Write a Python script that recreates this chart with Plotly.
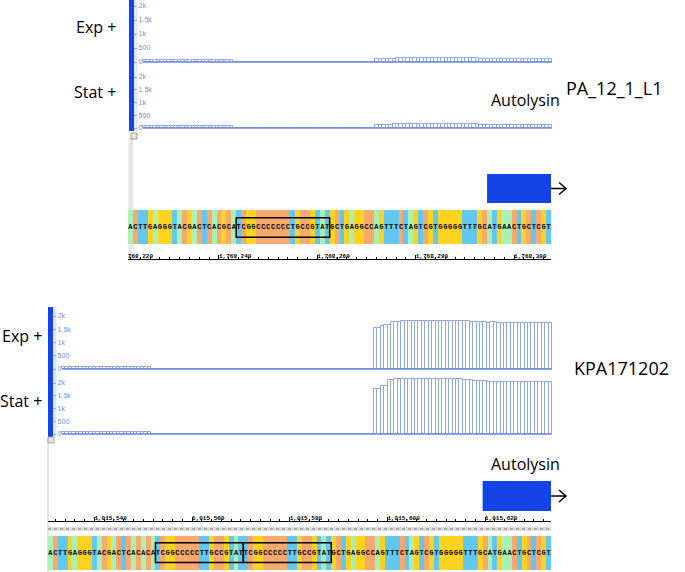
import plotly.graph_objects as go

W, H = 685, 572


def px(x):
    return x / W


def py(y):
    return 1 - y / H


# ---------------- data ----------------
track_names = ["Exp +", "Stat +"]
strain_names = ["PA_12_1_L1", "KPA171202"]
gene_name = "Autolysin"

top_seq = "ACTTGAGGGTACGACTCACGCATCGGCCCCCCCTGCCGTATGCTGAGGCCAGTTTCTAGTCGTGGGGGTTTGCATGAACTGCTCGT"
bottom_seq = "ACTTGAGGGTACGACTCACACATCGGCCCCCTTGCCGTATTCGGCCCCCTTGCCGTATGCTGAGGCCAGTTTCTAGTCGTGGGGGTTTGCATGAACTGCTCGT"
top_seq_start = 1768222
bottom_seq_start = 1015531

top_repeats = [(1768244, 1768262)]
bottom_repeats = [(1015553, 1015570), (1015571, 1015588)]

top_ticks = [1768220, 1768240, 1768260, 1768280, 1768300]
top_tick_labels = ["1,768,220", "1,768,240", "1,768,260", "1,768,280", "1,768,300"]
bottom_ticks = [1015540, 1015560, 1015580, 1015600, 1015620]
bottom_tick_labels = ["1,015,540", "1,015,560", "1,015,580", "1,015,600", "1,015,620"]

top_gene_start = 1768295
bottom_gene_start = 1015620

cov_ticks = [0, 500, 1000, 1500, 2000]
cov_tick_labels = ["0", "500", "1k", "1.5k", "2k"]

top_exp = [
    60, 60, 60, 60, 60, 60, 60, 60, 60, 60, 60, 60, 60, 60, 60, 60, 60, 60, 60, 60, 60, 60, 60, 60, 60, 60,
    0, 0, 0, 0, 0, 0, 0, 0, 0, 0, 0, 0, 0, 0, 0, 0, 0, 0, 0, 0, 0, 0, 0, 0, 0, 0, 0, 0, 0, 0, 0, 0, 0, 0, 0,
    0, 0, 0, 0, 0, 0,
    110, 115, 120, 120, 125, 125, 130, 130, 130, 130, 130, 135, 135, 135, 135, 135, 135, 135, 135, 130,
    130, 130, 130, 130, 130, 130, 130, 130, 130, 130, 125, 125, 125, 125, 125, 125, 125, 125, 125, 125,
    125, 125, 125, 125, 125, 125, 125, 125, 125, 125, 125,
]
top_stat = [
    60, 60, 60, 60, 60, 60, 60, 60, 60, 60, 60, 60, 60, 60, 60, 60, 60, 60, 60, 60, 60, 60, 60, 60, 60, 60,
    0, 0, 0, 0, 0, 0, 0, 0, 0, 0, 0, 0, 0, 0, 0, 0, 0, 0, 0, 0, 0, 0, 0, 0, 0, 0, 0, 0, 0, 0, 0, 0, 0, 0, 0,
    0, 0, 0, 0, 0, 0,
    120, 125, 130, 130, 135, 140, 140, 140, 140, 145, 145, 145, 145, 145, 145, 145, 145, 145, 145, 140,
    140, 140, 140, 140, 140, 140, 140, 140, 140, 140, 135, 135, 135, 135, 135, 135, 135, 135, 135, 135,
    135, 135, 135, 135, 135, 135, 135, 135, 135, 135, 135,
]
bottom_exp = [
    60, 60, 60, 60, 60, 60, 60, 60, 60, 60, 60, 60, 60, 60, 60, 60, 60, 60, 60, 60, 60, 60, 60, 60, 60, 60,
    0, 0, 0, 0, 0, 0, 0, 0, 0, 0, 0, 0, 0, 0, 0, 0, 0, 0, 0, 0, 0, 0, 0, 0, 0, 0, 0, 0, 0, 0, 0, 0, 0, 0,
    0, 0, 0, 0, 0, 0, 0, 0, 0, 0, 0, 0, 0, 0, 0, 0, 0, 0, 0, 0, 0, 0, 0, 0, 0, 0, 0, 0, 0, 0, 0,
    1550, 1550, 1610, 1650, 1650, 1770, 1780, 1790, 1800, 1800,
    1800, 1810, 1810, 1820, 1820, 1820, 1830, 1830, 1830, 1830,
    1830, 1830, 1830, 1830, 1820, 1820, 1810, 1800, 1790, 1780,
    1770, 1760, 1760, 1750, 1760, 1760, 1750, 1750, 1740, 1740,
    1740, 1740, 1730, 1730, 1730, 1730, 1740, 1740, 1730, 1730,
    1730, 1730,
]
bottom_stat = [
    60, 60, 60, 60, 60, 60, 60, 60, 60, 60, 60, 60, 60, 60, 60, 60, 60, 60, 60, 60, 60, 60, 60, 60, 60, 60,
    0, 0, 0, 0, 0, 0, 0, 0, 0, 0, 0, 0, 0, 0, 0, 0, 0, 0, 0, 0, 0, 0, 0, 0, 0, 0, 0, 0, 0, 0, 0, 0, 0, 0,
    0, 0, 0, 0, 0, 0, 0, 0, 0, 0, 0, 0, 0, 0, 0, 0, 0, 0, 0, 0, 0, 0, 0, 0, 0, 0, 0, 0, 0, 0, 0,
    1780, 1780, 1870, 1870, 2100, 2130, 2140, 2140, 2140, 2140,
    2140, 2150, 2150, 2150, 2150, 2150, 2150, 2150, 2150, 2150,
    2150, 2150, 2150, 2150, 2140, 2140, 2130, 2120, 2110, 2090,
    2080, 2070, 2060, 2050, 2050, 2050, 2050, 2040, 2040, 2040,
    2040, 2030, 2030, 2030, 2030, 2030, 2030, 2030, 2030, 2030,
    2030, 2030,
]

# ---------------- styles ----------------
base_colors = {"A": "#a9f0b5", "C": "#f7a96e", "G": "#ffd320", "T": "#63c8f1"}
BLUE = "#1444e8"
COV_LINE = "#8ea8e8"
COV_BASE = "#6a8bdb"
TICK_BLUE = "#6f8fdc"
LABEL_FONT = dict(family="Open Sans", size=16, color="black")
STRAIN_FONT = dict(family="Open Sans", size=18, color="black")

fig = go.Figure()
layout = dict(
    width=W, height=H, margin=dict(l=0, r=0, t=0, b=0),
    paper_bgcolor="white", plot_bgcolor="rgba(0,0,0,0)",
    showlegend=False, bargap=0, barmode="overlay",
)


def yrange(zero_px, twok_px, top_px, bot_px):
    k = (zero_px - twok_px) / 2000.0
    return [-(bot_px - zero_px) / k, (zero_px - top_px) / k]


def add_cov(idx, vals, xdom_px, data_left_px, zero_px, twok_px, top_px, bot_px):
    n = len(vals)
    span = xdom_px[1] - data_left_px
    pad = (data_left_px - xdom_px[0]) * n / span
    xa, ya = f"x{idx}", f"y{idx}"
    fig.add_trace(go.Bar(
        x=list(range(n)), y=vals, width=1, xaxis=xa, yaxis=ya,
        marker=dict(color="white", line=dict(color=COV_LINE, width=1)),
        hoverinfo="skip",
    ))
    fig.add_trace(go.Scatter(
        x=[-0.5, n - 0.5], y=[0, 0], mode="lines", xaxis=xa, yaxis=ya,
        line=dict(color=COV_BASE, width=1.5), hoverinfo="skip",
    ))
    layout[f"xaxis{idx}"] = dict(domain=[px(xdom_px[0]), px(xdom_px[1])],
                                  range=[-0.5 - pad, n - 0.5], visible=False,
                                  anchor=ya, fixedrange=True)
    layout[f"yaxis{idx}"] = dict(domain=[py(bot_px), py(top_px)],
                                  range=yrange(zero_px, twok_px, top_px, bot_px),
                                  anchor=xa, showgrid=False, zeroline=False, showline=False,
                                  tickmode="array", tickvals=cov_ticks, ticktext=cov_tick_labels,
                                  ticks="inside", ticklen=3, tickcolor=COV_LINE,
                                  ticklabelposition="inside",
                                  tickfont=dict(family="Liberation Sans", size=7, color=TICK_BLUE))


def add_seq(idx, seq, start, xdom_px, top_px, bot_px, repeats, y0, y1):
    pos = [start + i for i in range(len(seq))]
    xa, ya = f"x{idx}", f"y{idx}"
    fig.add_trace(go.Bar(
        x=pos, y=[1] * len(seq), width=1, xaxis=xa, yaxis=ya,
        marker=dict(color=[base_colors[b] for b in seq], line=dict(width=0)),
        hoverinfo="skip",
    ))
    fig.add_trace(go.Scatter(
        x=pos, y=[0.5] * len(seq), mode="text", text=list(seq), xaxis=xa, yaxis=ya,
        textfont=dict(family="Liberation Mono", size=7, color="black", weight="bold"),
        hoverinfo="skip",
    ))
    rng = [start - 0.5, start + len(seq) - 0.5]
    layout[f"xaxis{idx}"] = dict(domain=[px(xdom_px[0]), px(xdom_px[1])], range=rng,
                                  visible=False, anchor=ya)
    layout[f"yaxis{idx}"] = dict(domain=[py(bot_px), py(top_px)], range=[0, 1],
                                  visible=False, anchor=xa)
    for a, b in repeats:
        shapes.append(dict(type="rect", xref=xa, yref=ya, x0=a - 0.5, x1=b + 0.5,
                           y0=y0, y1=y1, line=dict(color="black", width=1.5),
                           fillcolor="rgba(0,0,0,0)", layer="above"))
    return rng


def add_ruler(idx, ticks, labels, rng, xdom_px, top_px, bot_px):
    xa, ya = f"x{idx}", f"y{idx}"
    fig.add_trace(go.Scatter(
        x=ticks, y=[0] * len(ticks), mode="text", text=labels, textposition="top right",
        xaxis=xa, yaxis=ya, cliponaxis=True,
        textfont=dict(family="Liberation Mono", size=6, color="black", weight="bold"),
        hoverinfo="skip",
    ))
    layout[f"xaxis{idx}"] = dict(domain=[px(xdom_px[0]), px(xdom_px[1])], range=rng,
                                  anchor=ya, showline=True, linecolor="black", linewidth=1,
                                  showgrid=False, zeroline=False, showticklabels=False,
                                  tickmode="linear", tick0=ticks[0], dtick=ticks[1] - ticks[0],
                                  ticks="inside", ticklen=4, tickcolor="black",
                                  minor=dict(ticks="inside", ticklen=2, tickcolor="black",
                                             tickmode="linear", tick0=ticks[0], dtick=2))
    layout[f"yaxis{idx}"] = dict(domain=[py(bot_px), py(top_px)], range=[0, 1],
                                  visible=False, anchor=xa)


shapes = []
annotations = []

# ---------------- top panel ----------------
add_cov(1, top_exp, (134, 552), 143, 62, 6, 0, 67)
add_cov(2, top_stat, (134, 552), 143, 128, 77, 70, 133)
top_rng = add_seq(3, top_seq, top_seq_start, (128, 551), 210, 244, top_repeats, 0.2, 0.77)
add_ruler(4, top_ticks, top_tick_labels, top_rng, (128, 551), 246, 259)

# ---------------- bottom panel ----------------
add_cov(5, bottom_exp, (53, 552), 62, 369, 316, 309, 374)
add_cov(6, bottom_stat, (53, 552), 62, 434, 383, 374, 439)
bot_rng = add_seq(8, bottom_seq, bottom_seq_start, (48, 551), 536, 570, bottom_repeats, 0.22, 0.8)
add_ruler(7, bottom_ticks, bottom_tick_labels, bot_rng, (48, 551), 508, 521)

# ---------------- decorations ----------------
def prect(x0, y0, x1, y1, fill, line=None, layer="above"):
    shapes.append(dict(type="rect", xref="paper", yref="paper",
                       x0=px(x0), x1=px(x1), y0=py(y1), y1=py(y0),
                       fillcolor=fill, line=dict(width=0) if line is None else line,
                       layer=layer))


def pline(x0, y0, x1, y1, color, width, dash="solid", layer="above"):
    shapes.append(dict(type="line", xref="paper", yref="paper",
                       x0=px(x0), x1=px(x1), y0=py(y0), y1=py(y1),
                       line=dict(color=color, width=width, dash=dash), layer=layer))


# top panel frame pieces
prect(134, 0, 137.5, 131, "#dfe7fb", layer="below")
prect(129, 0, 134, 131, BLUE)
prect(128.5, 138, 133.5, 262, "#e6e6e6", layer="below")
prect(131, 133, 137, 139, "#e8e8e8", line=dict(color="#9a9a9a", width=1))
# bottom panel frame pieces
prect(53, 307, 56.5, 437, "#dfe7fb", layer="below")
prect(48, 307, 53, 437, BLUE)
pline(48, 440, 48, 572, "#c8c8c8", 1, layer="below")
prect(48, 437, 54, 443, "#e8e8e8", line=dict(color="#9a9a9a", width=1))
pline(48, 529, 551, 529, "#dcdcdc", 4, layer="below")
pline(48, 529, 551, 529, "#9a9a9a", 1.5, dash="dot")


def add_gene(xa, gene_start, rng, y_top, y_bot, text_y):
    shapes.append(dict(type="rect", xref=xa, yref="paper",
                       x0=gene_start - 0.5, x1=rng[1], y0=py(y_bot), y1=py(y_top),
                       fillcolor=BLUE, line=dict(width=0)))
    ym = (y_top + y_bot) / 2
    x_end = 551
    path = (f"M {px(x_end)},{py(ym)} L {px(x_end + 15)},{py(ym)} "
            f"M {px(x_end + 8)},{py(ym - 6)} L {px(x_end + 15)},{py(ym)} L {px(x_end + 8)},{py(ym + 6)}")
    shapes.append(dict(type="path", xref="paper", yref="paper", path=path,
                       line=dict(color="black", width=1.5)))
    annotations.append(dict(x=px(525), y=py(text_y), xref="paper", yref="paper",
                            text=gene_name, showarrow=False, font=LABEL_FONT,
                            xanchor="center", yanchor="middle"))


add_gene("x3", top_gene_start, top_rng, 174, 203, 100)
add_gene("x8", bottom_gene_start, bot_rng, 481, 511, 464)


def label(text, x_pos, y, anchor="right", font=LABEL_FONT):
    annotations.append(dict(x=px(x_pos), y=py(y), xref="paper", yref="paper",
                            text=text, showarrow=False, font=font,
                            xanchor=anchor, yanchor="middle"))


label(track_names[0], 118, 27)
label(track_names[1], 118, 92)
label(strain_names[0], 564, 88, anchor="left", font=STRAIN_FONT)
label(track_names[0], 44, 336)
label(track_names[1], 44, 401)
label(strain_names[1], 572, 368, anchor="left", font=STRAIN_FONT)

layout["shapes"] = shapes
layout["annotations"] = annotations
fig.update_layout(**layout)
fig.write_html("out.html", config={"displayModeBar": False},
               post_script="document.body.style.margin='0';document.body.style.overflow='hidden';")
